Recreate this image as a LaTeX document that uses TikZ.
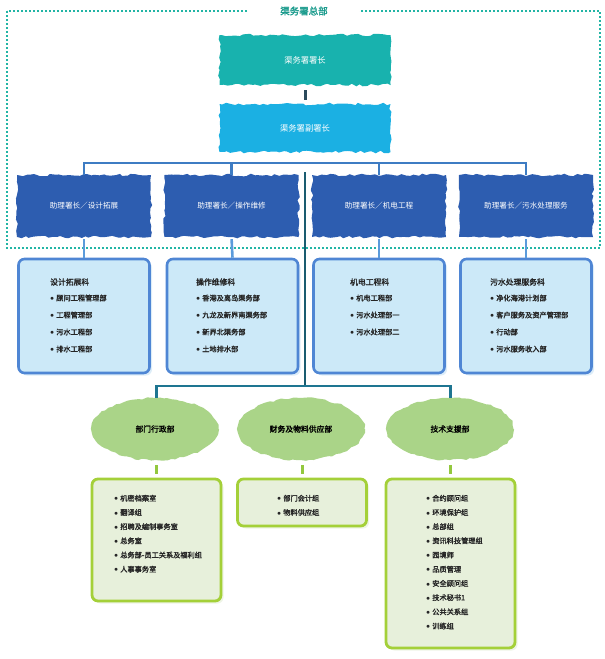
\documentclass[tikz,border=0pt]{standalone}
\usepackage{fontspec}
\setmainfont{Noto Sans CJK SC}[AutoFakeBold=2]
\usepackage{xcolor}
\usetikzlibrary{positioning, shapes.geometric, decorations.pathmorphing, shadows}

\definecolor{marco}{HTML}{22B5A5}
\definecolor{titulo}{HTML}{1D9C8E}
\definecolor{jefe}{HTML}{18B2AE}
\definecolor{subjefe}{HTML}{1BB0E3}
\definecolor{asist}{HTML}{2D5DB0}
\definecolor{cajaazul}{HTML}{CCE9F8}
\definecolor{bordeazul}{HTML}{4F86D4}
\definecolor{sombraazul}{HTML}{DDEDF8}
\definecolor{busazul}{HTML}{3E7CC3}
\definecolor{bajada}{HTML}{5B9BDB}
\definecolor{tronco}{HTML}{1A5C70}
\definecolor{corto}{HTML}{2B4A5C}
\definecolor{busverde}{HTML}{1E7591}
\definecolor{hoja}{HTML}{AAD488}
\definecolor{tallo}{HTML}{93C83E}
\definecolor{cajaverde}{HTML}{E7F0DB}
\definecolor{bordeverde}{HTML}{A4D039}
\definecolor{sombraverde}{HTML}{EEF4E6}

\tikzset{
  brocha/.style={decorate, decoration={random steps, segment length=4pt, amplitude=1.3pt},
    text=white, font=\fontsize{8.3}{10}\selectfont, inner sep=0pt},
  jefebox/.style={brocha, fill=jefe, minimum width=171pt, minimum height=50pt},
  subbox/.style={brocha, fill=subjefe, minimum width=171pt, minimum height=48pt},
  asistbox/.style={brocha, fill=asist, minimum width=134pt, minimum height=62pt,
    font=\fontsize{7.6}{10}\selectfont},
  hojabox/.style={ellipse, decorate, decoration={random steps, segment length=4pt, amplitude=1pt},
    fill=hoja, minimum width=127pt, minimum height=62pt, inner sep=0pt,
    font=\bfseries\fontsize{7.8}{10}\selectfont},
  kebox/.style={draw=bordeazul, line width=2.6pt, fill=cajaazul, rounded corners=6pt,
    minimum width=131pt, minimum height=114pt,
    drop shadow={shadow xshift=2.5pt, shadow yshift=-2.5pt, fill=sombraazul, opacity=1}},
  zubox/.style={draw=bordeverde, line width=2.8pt, fill=cajaverde, rounded corners=6pt,
    minimum width=129pt,
    drop shadow={shadow xshift=2.5pt, shadow yshift=-2.5pt, fill=sombraverde, opacity=1}},
  kehead/.style={anchor=west, inner sep=0pt, text=black!85, font=\bfseries\fontsize{7.8}{10}\selectfont},
  item/.style={anchor=west, inner sep=0pt, text=black!85, font=\bfseries\fontsize{7.2}{10}\selectfont},
  linea/.style={line width=2.6pt}
}

\begin{document}
\begin{tikzpicture}[x=1pt, y=-1pt]
  \pgfmathsetseed{7}
  \useasboundingbox (0,0) rectangle (605,659);
  % Marco punteado
  \draw[marco, line width=1.6pt, dash pattern=on 1.6pt off 2.4pt] (7,11) rectangle (600,248);
  \node[fill=white, inner xsep=31pt, inner ysep=2pt, text=titulo, font=\bfseries\fontsize{9.5}{11}\selectfont] (hq) at (304,11) {渠务署总部};

  % Jefes
  \node[jefebox] (jefe) at (305,60) {渠务署署长};
  \node[subbox] (sub) at (305,128) {渠务署副署长};
  \draw[corto, line width=3pt, shorten <=5pt, shorten >=4pt] (jefe.south) -- (sub.north);

  % Asistentes
  \node[asistbox] (a1) at (84,206) {助理署长／设计拓展};
  \node[asistbox] (a2) at (231.5,206) {助理署长／操作维修};
  \node[asistbox] (a3) at (379,206) {助理署长／机电工程};
  \node[asistbox] (a4) at (526,206) {助理署长／污水处理服务};
  \draw[linea, busazul] (a1.north) -- (a1.north |- 0,163) -- (a4.north |- 0,163) -- (a4.north);
  \draw[linea, busazul] (a2.north) -- (a2.north |- 0,163);
  \draw[linea, busazul] (a3.north) -- (a3.north |- 0,163);

  % Tronco central
  \coordinate (arriba) at (305,172);
  \coordinate (nudo) at (304,386);
  \draw[linea, tronco] (arriba) -- (arriba |- nudo);

  % Cajas de los cuatro asistentes
  \node[kebox] (c1) at (84,316) {};
  \node[kebox] (c2) at (232.5,316) {};
  \node[kebox] (c3) at (379,316) {};
  \node[kebox] (c4) at (526,316) {};
  \foreach \n in {1,2,3,4}
    \draw[linea, bajada, shorten <=2pt] (a\n.south) -- (c\n.north);

  \node[kehead] (c1-t) at (50,282) {设计拓展科};
  \foreach \t [count=\i] in {顾问工程管理部, 工程管理部, 污水工程部, 排水工程部}
    \node[item] (c1-\i) at (50,281+17*\i) {$\bullet$\hspace{2pt}\t};
  \node[kehead] (c2-t) at (196,282) {操作维修科};
  \foreach \t [count=\i] in {香港及离岛渠务部, 九龙及新界南渠务部, 新界北渠务部, 土地排水部}
    \node[item] (c2-\i) at (196,281+17*\i) {$\bullet$\hspace{2pt}\t};
  \node[kehead] (c3-t) at (350,282) {机电工程科};
  \foreach \t [count=\i] in {机电工程部, 污水处理部一, 污水处理部二}
    \node[item] (c3-\i) at (350,281+17*\i) {$\bullet$\hspace{2pt}\t};
  \node[kehead] (c4-t) at (490,282) {污水处理服务科};
  \foreach \t [count=\i] in {净化海港计划部, 客户服务及资产管理部, 行动部, 污水服务收入部}
    \node[item] (c4-\i) at (490,281+17*\i) {$\bullet$\hspace{2pt}\t};

  % Departamentos (verde)
  \node[hojabox] (v1) at (155,429) {部门行政部};
  \node[hojabox] (v2) at (301,429) {财务及物料供应部};
  \node[hojabox] (v3) at (450,429) {技术支援部};

  \node[zubox, minimum height=122pt] (g1) at (156.5,540) {};
  \node[zubox, minimum height=47pt] (g2) at (302,502.5) {};
  \node[zubox, minimum height=169pt] (g3) at (450.5,563.5) {};
  \draw[linea, busverde] (g1.north |- v1.north) -- (g1.north |- nudo) -- (g3.north |- nudo) -- (g3.north |- v3.north);
  \foreach \n in {1,2,3}
    \draw[tallo, line width=3pt, shorten <=5pt, shorten >=4pt] (g\n.north |- v\n.south) -- (g\n.north);

  \foreach \t [count=\i] in {机密档案室, 翻译组, 招聘及编制事务室, 总务室, 总务部-员工关系及福利组, 人事事务室}
    \node[item] (g1-\i) at (114,484+14.2*\i) {$\bullet$\hspace{2pt}\t};
  \foreach \t [count=\i] in {部门会计组, 物料供应组}
    \node[item] (g2-\i) at (277,484+14.2*\i) {$\bullet$\hspace{2pt}\t};
  \foreach \t [count=\i] in {合约顾问组, 环境保护组, 总部组, 资讯科技管理组, 园境师, 品质管理, 安全顾问组, 技术秘书1, 公共关系组, 训练组}
    \node[item] (g3-\i) at (426,484+14.2*\i) {$\bullet$\hspace{2pt}\t};
\end{tikzpicture}
\end{document}
